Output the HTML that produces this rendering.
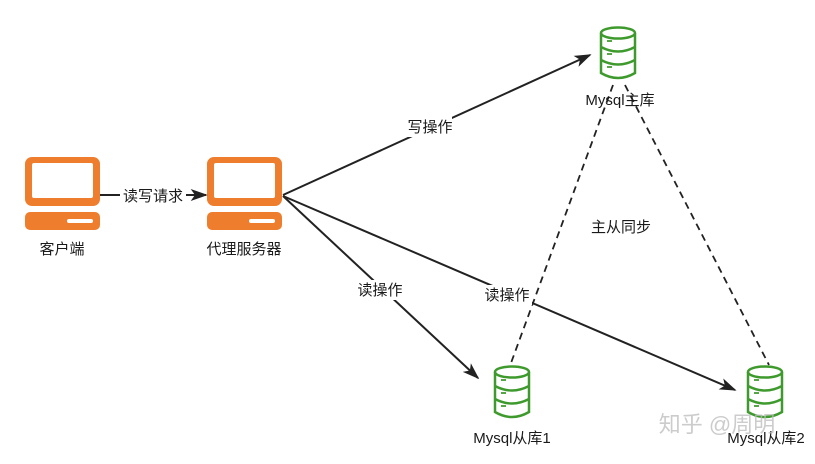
<!DOCTYPE html>
<html><head><meta charset="utf-8"><style>
body{margin:0;background:#fff;width:815px;height:459px;overflow:hidden}
text{font-family:"Liberation Sans","Noto Sans CJK SC",sans-serif;font-size:15px;fill:#1a1a1a}
</style></head><body>
<svg width="815" height="459" viewBox="0 0 815 459">
<defs>
<marker id="a" viewBox="0 0 10 10" refX="9" refY="5" markerWidth="17" markerHeight="17" orient="auto" markerUnits="userSpaceOnUse">
<path d="M0,1.5 L10,5 L0,8.5 L2.5,5 Z" fill="#222"/></marker>
<g id="pc">
<rect x="0" y="0" width="75" height="49" rx="7" fill="#ee7e2d"/>
<rect x="7" y="6" width="61" height="35" rx="2" fill="#fff"/>
<rect x="0" y="55" width="75" height="18" rx="5" fill="#ee7e2d"/>
<rect x="42" y="62" width="26" height="4" rx="2" fill="#fff"/>
</g>
<g id="db" fill="none" stroke="#3f9a2e" stroke-width="2.5">
<ellipse cx="18" cy="6" rx="17" ry="5.5"/>
<path d="M1,6 V46 Q18,56 35,46 V6"/>
<path d="M1,20 Q18,29 35,20 M1,33 Q18,42 35,33"/>
<path d="M7,14 h5 M7,27 h5 M7,40 h5" stroke-width="1.8"/>
</g>
</defs>
<use href="#pc" x="25" y="157"/>
<use href="#pc" x="207" y="157"/>
<use href="#db" x="600" y="27"/>
<use href="#db" x="494" y="366"/>
<use href="#db" x="747" y="366"/>
<g stroke="#222" stroke-width="2" fill="none">
<line x1="100" y1="195" x2="206" y2="195" marker-end="url(#a)"/>
<line x1="283" y1="195" x2="590" y2="55" marker-end="url(#a)"/>
<line x1="283" y1="196" x2="478" y2="378" marker-end="url(#a)"/>
<line x1="283" y1="196" x2="735" y2="390" marker-end="url(#a)"/>
<line x1="613" y1="85" x2="511" y2="363" stroke-dasharray="7,5" stroke-width="1.8"/>
<line x1="625" y1="85" x2="769" y2="365" stroke-dasharray="7,5" stroke-width="1.8"/>
</g>
<g fill="#fff">
<rect x="120" y="186" width="66" height="19"/>
<rect x="408" y="117" width="44" height="20"/>
<rect x="356" y="280" width="48" height="20"/>
<rect x="482" y="285" width="50" height="20"/>
</g>
<g text-anchor="middle">
<text x="153" y="201">读写请求</text>
<text x="62" y="254">客户端</text>
<text x="244" y="254">代理服务器</text>
<text x="430" y="132">写操作</text>
<text x="380" y="295">读操作</text>
<text x="507" y="300">读操作</text>
<text x="621" y="232">主从同步</text>
<text x="620" y="105">Mysql主库</text>
<text x="512" y="443">Mysql从库1</text>
<text x="766" y="443">Mysql从库2</text>
<text x="717" y="432" style="font-size:22px;fill:#bbb;fill-opacity:.75">知乎 @周明</text>
</g>
</svg>
</body></html>
